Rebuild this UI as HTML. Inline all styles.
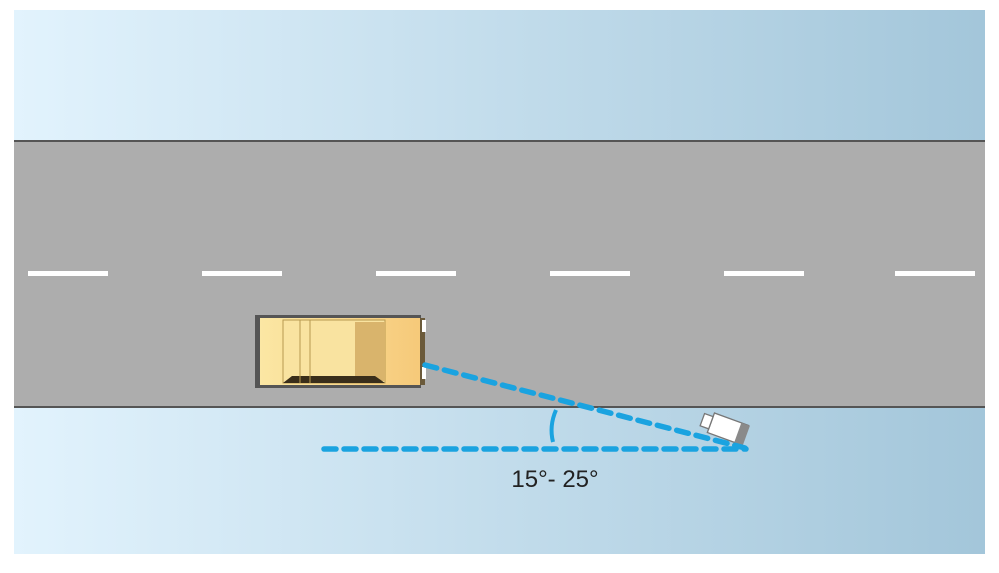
<!DOCTYPE html>
<html><head><style>
body{margin:0;width:999px;height:568px;background:#fff;overflow:hidden}
</style></head><body>
<svg width="999" height="568" viewBox="0 0 999 568" xmlns="http://www.w3.org/2000/svg">
<defs>
<linearGradient id="bg" x1="0" x2="1" y1="0" y2="0">
<stop offset="0" stop-color="#e2f3fd"/><stop offset="1" stop-color="#a3c6da"/>
</linearGradient>
<linearGradient id="car" x1="0" x2="1">
<stop offset="0" stop-color="#fbe7a4"/><stop offset="1" stop-color="#f6c979"/>
</linearGradient>
</defs>
<rect x="14" y="10" width="971" height="544" fill="url(#bg)"/>
<rect x="14" y="141" width="971" height="267" fill="#adadad"/>
<rect x="14" y="140" width="971" height="2" fill="#555"/>
<rect x="14" y="406" width="971" height="2" fill="#555"/>
<g fill="#fff">
<rect x="28" y="271" width="80" height="5"/><rect x="202" y="271" width="80" height="5"/>
<rect x="376" y="271" width="80" height="5"/><rect x="550" y="271" width="80" height="5"/>
<rect x="724" y="271" width="80" height="5"/><rect x="895" y="271" width="80" height="5"/>
</g>
<!-- car -->
<rect x="255" y="315" width="166" height="73" fill="#555"/>
<rect x="260" y="318" width="162" height="67" fill="url(#car)"/>
<rect x="283" y="320" width="102" height="63" fill="#f9e3a0" stroke="#b89a50" stroke-width="1"/>
<rect x="355" y="322" width="30" height="59" fill="#d9b46c"/>
<polygon points="283,383 385,383 375,376 292,376" fill="#3a2e1a"/>
<line x1="300" y1="320" x2="300" y2="383" stroke="#b89a50"/>
<line x1="310" y1="320" x2="310" y2="383" stroke="#b89a50"/>
<rect x="420" y="318" width="5" height="67" fill="#6b5a3a"/>
<rect x="422" y="320" width="4" height="12" fill="#fff"/>
<rect x="422" y="367" width="4" height="12" fill="#fff"/>
<!-- camera -->
<g transform="translate(728,429) rotate(20) scale(1.3)">
<rect x="-14" y="-8" width="28" height="16" fill="#fff" stroke="#777" stroke-width="1"/>
<rect x="8" y="-8" width="7" height="16" fill="#8a8a8a"/>
<rect x="-21" y="-5" width="7" height="10" fill="#fff" stroke="#777" stroke-width="1"/>
</g>
<g stroke="#1aa3e0" stroke-width="5.5" stroke-dasharray="12,8" stroke-linecap="round" fill="none">
<line x1="425" y1="365" x2="745" y2="448"/>
<line x1="324" y1="449" x2="746" y2="449"/>
</g>
<path d="M556,410 Q549,426 553,442" stroke="#1aa3e0" stroke-width="4" fill="none"/>
<text x="555" y="487" font-family="Liberation Sans, sans-serif" font-size="24" text-anchor="middle" fill="#222">15°- 25°</text>
</svg>
</body></html>
